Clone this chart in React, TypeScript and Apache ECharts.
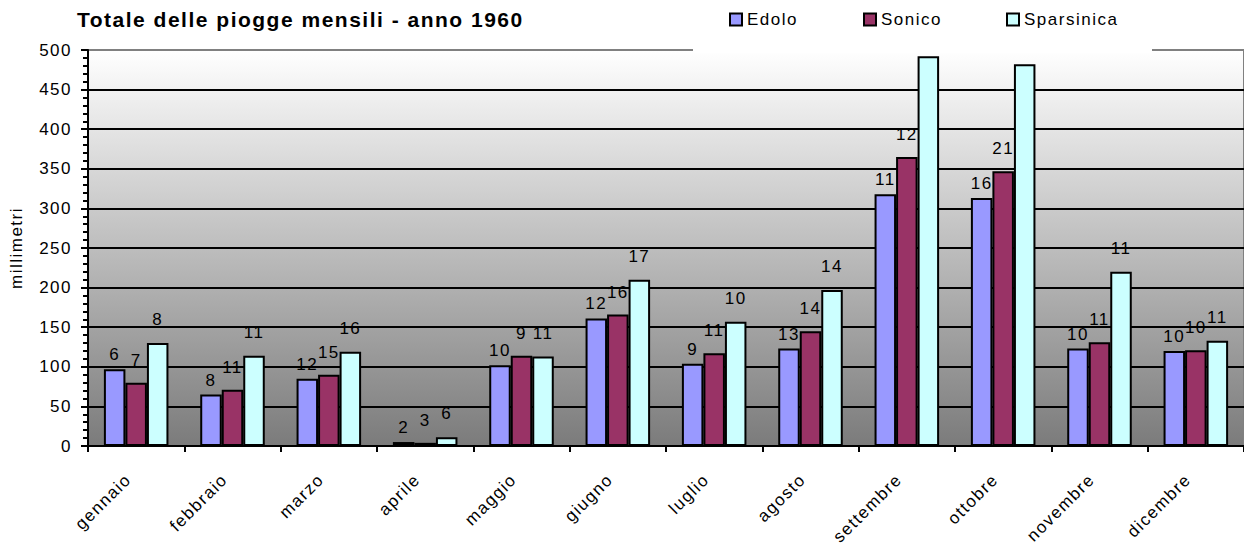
import React, { useEffect, useRef } from "react";
import * as echarts from "echarts";

// Monthly rainfall totals (mm) for three stations, 1960
const MONTHS = [
  "gennaio", "febbraio", "marzo", "aprile", "maggio", "giugno",
  "luglio", "agosto", "settembre", "ottobre", "novembre", "dicembre",
];
const EDOLO_MM = [97, 65, 85, 5, 102, 161, 104, 123, 318, 313, 123, 120];
const SONICO_MM = [80, 71, 90, 4, 114, 166, 117, 145, 365, 347, 131, 121];
const SPARSINICA_MM = [130, 114, 119, 11, 113, 210, 157, 197, 492, 482, 220, 133];

// Rainy days per month, shown above each bar
const EDOLO_DAYS = [6, 8, 12, 2, 10, 12, 9, 13, 11, 16, 10, 10];
const SONICO_DAYS = [7, 11, 15, 3, 9, 16, 11, 14, 12, 21, 11, 10];
const SPARSINICA_DAYS: (number | null)[] = [8, 11, 16, 6, 11, 17, 10, 14, null, null, 11, 11];

const Y_TICKS = { min: 0, max: 500, interval: 50 };

const FONT = "'Liberation Sans', Arial, Helvetica, sans-serif";

const STATIONS = [
  { name: "Edolo", mm: EDOLO_MM, days: EDOLO_DAYS, color: "#9999FF", legendLeft: 729, labelGap: 6 },
  { name: "Sonico", mm: SONICO_MM, days: SONICO_DAYS, color: "#993366", legendLeft: 863, labelGap: 14 },
  { name: "Sparsinica", mm: SPARSINICA_MM, days: SPARSINICA_DAYS, color: "#CCFFFF", legendLeft: 1006, labelGap: 15 },
];

export default function App() {
  const ref = useRef<HTMLDivElement>(null);

  useEffect(() => {
    if (!ref.current) return;
    const chart = echarts.init(ref.current, undefined, { renderer: "svg" });

    const option = {
      animation: false,
      backgroundColor: "#ffffff",
      textStyle: { fontFamily: FONT },
      title: {
        text: "Totale delle piogge mensili - anno 1960",
        left: 77,
        top: 9,
        padding: 0,
        textStyle: { fontSize: 21, fontWeight: "bold", color: "#000", fontFamily: FONT },
      },
      legend: STATIONS.map((s) => ({
        data: [s.name],
        left: s.legendLeft,
        top: 11,
        padding: 0,
        icon: "rect",
        itemWidth: 12,
        itemHeight: 12,
        itemGap: 0,
        selectedMode: false,
        itemStyle: { borderColor: "#000", borderWidth: 2 },
        textStyle: { fontSize: 17, color: "#000", fontFamily: FONT },
        z: 5,
      })),
      graphic: [
        {
          type: "rect",
          left: 693,
          top: 0,
          shape: { width: 459, height: 53 },
          style: { fill: "#ffffff" },
          z: 1,
        },
      ],
      grid: {
        left: 88,
        top: 50,
        right: -1,
        bottom: 100,
        show: true,
        backgroundColor: new echarts.graphic.LinearGradient(0, 0, 0, 1, [
          { offset: 0, color: "#ffffff" },
          { offset: 1, color: "#7b7b7b" },
        ]),
        borderColor: "#808080",
        borderWidth: 2,
      },
      xAxis: {
        type: "category",
        data: MONTHS,
        axisLine: { lineStyle: { color: "#000", width: 2 } },
        axisTick: { show: true, length: 6, lineStyle: { color: "#000", width: 2 } },
        axisLabel: {
          rotate: 45,
          interval: 0,
          fontSize: 17,
          color: "#000",
          margin: 23,
          padding: [0, 11, 0, 0],
          fontFamily: FONT,
        },
        splitLine: { show: false },
      },
      yAxis: {
        type: "value",
        min: Y_TICKS.min,
        max: Y_TICKS.max,
        interval: Y_TICKS.interval,
        name: "millimetri",
        nameLocation: "middle",
        nameGap: 63,
        nameTextStyle: { fontSize: 17, color: "#000", fontFamily: FONT },
        axisLine: { show: true, lineStyle: { color: "#000", width: 2 } },
        axisTick: { show: true, length: 7, lineStyle: { color: "#000", width: 2 } },
        minorTick: { show: true, splitNumber: 5, length: 5, lineStyle: { color: "#000", width: 2 } },
        axisLabel: { fontSize: 17, color: "#000", margin: 16, fontFamily: FONT },
        splitLine: { show: true, showMaxLine: false, lineStyle: { color: "#000", width: 2 } },
      },
      series: STATIONS.map((s) => ({
        name: s.name,
        type: "bar",
        data: s.mm,
        barGap: "0%",
        barCategoryGap: "33%",
        itemStyle: { color: s.color, borderColor: "#000", borderWidth: 2 },
        label: {
          show: true,
          position: "top",
          distance: s.labelGap,
          fontSize: 17,
          color: "#000",
          fontFamily: FONT,
          formatter: (p: any) => {
            const d = s.days[p.dataIndex];
            return d == null ? "" : String(d);
          },
        },
      })),
    };

    chart.setOption(option as any);
    return () => chart.dispose();
  }, []);

  return (
    <>
      <style>{".rain-chart svg text { letter-spacing: 1.5px; }"}</style>
      <div
        ref={ref}
        className="rain-chart"
        style={{ position: "fixed", left: 0, top: 0, width: 1244, height: 546, background: "#fff" }}
      />
    </>
  );
}
